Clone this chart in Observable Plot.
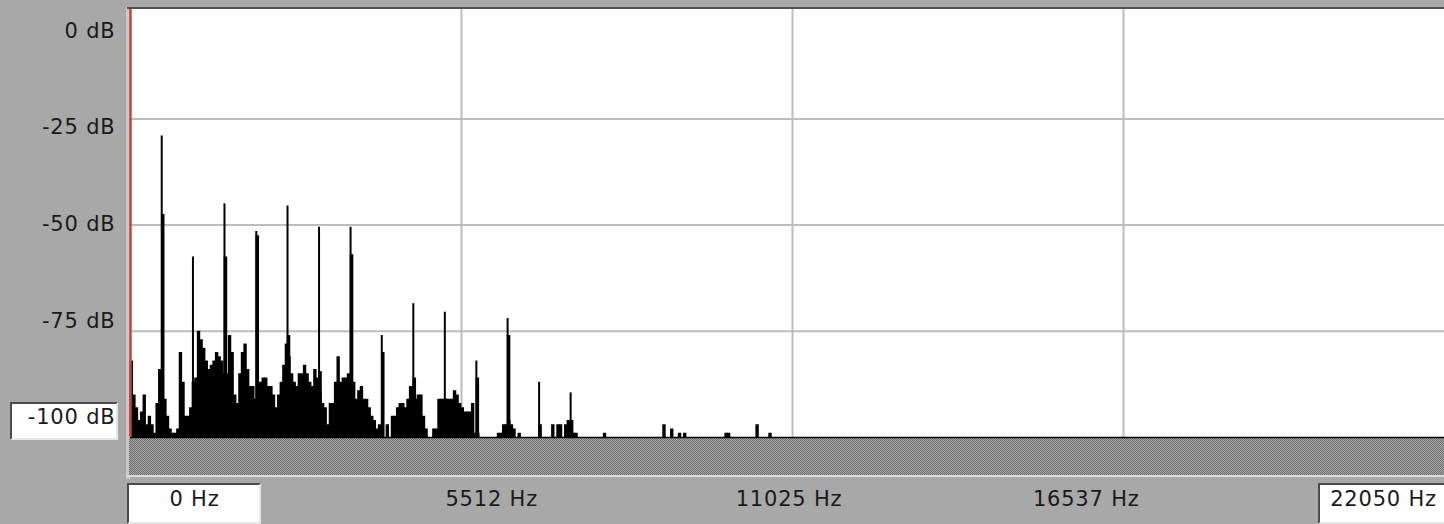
<!DOCTYPE html>
<html><head><meta charset="utf-8">
<script src="https://cdn.jsdelivr.net/npm/d3@7"></script>
<script src="https://cdn.jsdelivr.net/npm/@observablehq/plot@0.6"></script>
<style>
html,body{margin:0;padding:0;background:#a8a8a8;overflow:hidden;}
#root{position:relative;width:1444px;height:524px;overflow:hidden;background:#a8a8a8;}
#root svg{position:absolute;left:0;top:0;}
.chrome{position:absolute;}
.box{position:absolute;background:#fff;box-sizing:border-box;border-top:2px solid #4a4a4a;border-left:2px solid #4a4a4a;border-right:2px solid #e6e6e6;border-bottom:2px solid #e6e6e6;}
</style></head>
<body>
<div id="root">
  <div class="chrome" style="left:126px;top:7px;width:4px;height:472px;background:#c9c9c9"></div>
  <div class="chrome" style="left:129px;top:438px;width:1315px;height:37px;background:repeating-conic-gradient(#6f6f6f 0 25%, #a6a6a6 0 50%) 0 0/2px 2px;"></div>
  <div class="chrome" style="left:126px;top:475px;width:1318px;height:2px;background:#dcdcdc"></div>
  <div class="box" style="left:10px;top:402px;width:108px;height:38px"></div>
  <div class="box" style="left:127px;top:483px;width:134px;height:41px"></div>
  <div class="box" style="left:1318px;top:483px;width:140px;height:41px"></div>
</div>
<script>
// ---- data ----
const dbTicks = [0, -25, -50, -75, -100];
const hzTicks = [0, 5512, 11025, 16537, 22050];
const dbGrid = [-25, -50, -75];
const hzGrid = [5512, 11025, 16537, 22050];

// FFT bin width (Hz) of the noise spectrum bars
const binHz = 22050 / 512;
// level (dB) of each FFT bin, starting at 0 Hz
const levels = [
  -82, -90, -93, -96, -94, -90, -97, -95, -97, -99,
  -92, -84, -90, -91, -95, -98, -99, -99, -98, -80,
  -87, -95, -95, -93, -87, -86, -75, -77, -79, -82,
  -84, -83, -82, -80, -81, -82, -85, -85, -76, -80,
  -90, -92, -85, -80, -78, -84, -88, -88, -91, -91,
  -87, -86, -86, -88, -88, -90, -93, -90, -87, -83,
  -78, -81, -85, -87, -88, -85, -85, -83, -85, -87,
  -88, -84, -86, -89, -92, -93, -97, -92, -92, -87,
  -81, -87, -86, -86, -85, -86, -87, -91, -89, -88,
  -91, -91, -93, -95, -96, -98, -97, -100, -100, -97,
  -100, -95, -95, -93, -92, -92, -93, -91, -88, -88,
  -91, -90, -90, -95, -98, -100, -100, -98, -98, -91,
  -91, -91, -91, -91, -91, -89, -90, -92, -93, -94,
  -94, -94, -92, -99, -99, -100, -100, -100, -100, -100,
  -100, -100, -99, -99, -97, -97, -96, -97, -98, -100,
  -99, -100, -100, -100, -100, -100, -100, -100, -100, -100,
  -100, -100, -100, -97, -100, -97, -97, -100, -97, -96,
  -97, -99, -99, -100, -100, -100, -100, -100, -100, -100,
  -100, -100, -100, -99, -100, -100, -100, -100, -100, -100,
  -100, -100, -100, -100, -100, -100, -100, -100, -100, -100,
  -100, -100, -100, -100, -100, -100, -97, -100, -100, -98,
  -100, -100, -99, -100, -99, -100, -100, -100, -100, -100,
  -100, -100, -100, -100, -100, -100, -100, -100, -100, -100,
  -99, -99, -100, -100, -100, -100, -100, -100, -100, -100,
  -100, -100, -97, -100, -100, -100, -100, -99, -100, -100
];

// harmonic peaks (Hz), their top level and the level of the wider shoulder beneath
const harmonicHz = [520, 1040, 1565, 2095, 2615, 3140, 3665, 4185, 4710, 5235, 5760, 6280, 6805, 7330];
const peakDb     = [-29, -57.5, -45, -51.5, -45.5, -50.5, -50.5, -76, -68.5, -70.5, -82, -72, -87, -89.5];
const shoulderDb = [-47.5, -91, -57.5, -52.5, -76, -84.5, -57, -80, -86, -91, -86, -76, -97, -96];

// ---- build tables ----
const bins = levels.map((db, i) => ({x1: i * binHz, x2: (i + 1) * binHz, db})).filter(d => d.db > -100);
const harm = harmonicHz.map((hz, i) => ({hz, peak: peakDb[i], shoulder: shoulderDb[i]}));

const root = document.getElementById("root");
const font = "font-family:'DejaVu Sans',sans-serif;font-size:21px;letter-spacing:0.8px;color:#1a1a1a;";

const mainPlot = Plot.plot({
  width: 1454, height: 438,
  marginLeft: 130, marginRight: 0, marginTop: 8, marginBottom: 1,
  x: {domain: [0, 22050], axis: null},
  y: {domain: [-100, 1], axis: null},
  style: "background:transparent;max-width:none;overflow:visible;",
  marks: [
    Plot.frame({fill: "white", stroke: "none"}),
    Plot.ruleX(hzGrid, {stroke: "#bdbdbd", strokeWidth: 2}),
    Plot.ruleY(dbGrid, {stroke: "#bdbdbd", strokeWidth: 2}),
    Plot.rectY(bins, {x1: "x1", x2: "x2", y1: -100, y2: "db", fill: "black", insetLeft: -0.4, insetRight: -0.4}),
    Plot.ruleX(harm, {x: "hz", y1: -100, y2: "shoulder", stroke: "black", strokeWidth: 3.5, dx: 1}),
    Plot.ruleX(harm, {x: "hz", y1: -100, y2: "peak", stroke: "black", strokeWidth: 2}),
    Plot.ruleY([-100], {stroke: "black", strokeWidth: 1.5}),
    Plot.ruleX([0], {stroke: "#cc4040", strokeWidth: 2.5})
  ]
});
// top border of the plot area
const topBorder = document.createElement("div");
topBorder.className = "chrome";
topBorder.style.cssText = "left:127px;top:7px;width:1317px;height:2px;background:#505050;z-index:2";

const yLab = Plot.plot({
  width: 130, height: 524,
  marginLeft: 115, marginRight: 0, marginTop: 30.5, marginBottom: 107,
  y: {domain: [-100, 0]},
  style: "background:transparent;max-width:none;overflow:visible;" + font,
  marks: [
    Plot.axisY(dbTicks, {anchor: "left", tickSize: 0, tickPadding: 0, fontSize: 21,
      tickFormat: d => `${d} dB`, label: null})
  ]
});

const xLab = Plot.plot({
  width: 1444, height: 524,
  marginLeft: 194, marginRight: 61, marginTop: 0, marginBottom: 25,
  x: {domain: [0, 22050]},
  style: "background:transparent;max-width:none;overflow:visible;" + font,
  marks: [
    Plot.axisX(hzTicks, {anchor: "bottom", tickSize: 0, tickPadding: 0, fontSize: 21, lineAnchor: "middle",
      tickFormat: d => `${d} Hz`, label: null})
  ]
});

root.insertBefore(mainPlot, root.children[2]);
root.appendChild(topBorder);
root.appendChild(yLab);
root.appendChild(xLab);
</script>
</body></html>
